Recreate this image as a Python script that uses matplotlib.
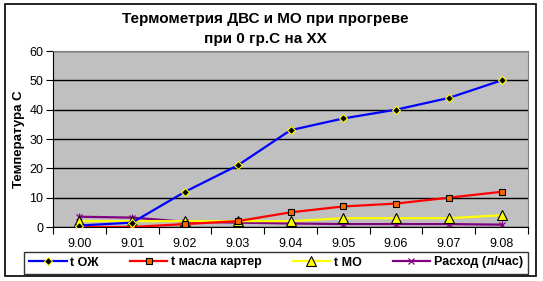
import matplotlib
matplotlib.use("Agg")
import matplotlib.pyplot as plt
from matplotlib.patches import Rectangle

plt.rcParams['font.family'] = ['Liberation Sans', 'DejaVu Sans']

categories = ["9.00", "9.01", "9.02", "9.03", "9.04", "9.05", "9.06", "9.07", "9.08"]
t_oj = [0.5, 1.5, 12, 21, 33, 37, 40, 44, 50]
t_oil = [0, 0, 1, 2, 5, 7, 8, 10, 12]
t_mo = [2, 2, 2, 2, 2, 3, 3, 3, 4]
rashod = [3.5, 3.2, 1.8, 1.5, 1.2, 1, 1, 1, 0.8]
yticks = [0, 10, 20, 30, 40, 50, 60]

W, H = 543, 281
fig = plt.figure(figsize=(W / 100, H / 100), dpi=100)
fig.patch.set_facecolor('white')
fig.patches.append(Rectangle((5 / W, 1 - 276 / H), 531 / W, 272 / H, transform=fig.transFigure,
                             fill=False, edgecolor='black', linewidth=1.2))

ax = fig.add_axes([53 / W, 1 - 227 / H, 475 / W, 176 / H])
ax.set_facecolor('#C0C0C0')
x = list(range(len(categories)))

ax.plot(x, t_oj, color='#0000FF', lw=1.6, marker='D', ms=4.5, mfc='black', mec='#FFFF00', mew=0.8,
        label='t ОЖ', zorder=5)
ax.plot(x, t_oil, color='#FF0000', lw=1.6, marker='s', ms=5, mfc='#FF6600', mec='black', mew=0.8,
        label='t масла картер', zorder=4)
ax.plot(x, t_mo, color='#FFFF00', lw=1.6, marker='^', ms=7, mfc='#FFFF00', mec='black', mew=0.8,
        label='t МО', zorder=3)
ax.plot(x, rashod, color='#800080', lw=1.6, marker='x', ms=5, mec='#800080', mew=0.9,
        label='Расход (л/час)', zorder=2)
ax.plot(x, rashod, lw=0, marker='|', ms=6, mec='#800080', mew=0.9, zorder=2)

ax.set_xlim(-0.5, len(categories) - 0.5)
ax.set_ylim(0, 60)
ax.set_yticks(yticks)
ax.set_yticklabels([str(v) for v in yticks], fontsize=9)
ax.set_xticks([i - 0.5 for i in range(len(categories) + 1)])
ax.set_xticklabels([])
ax.set_xticks(x, minor=True)
ax.set_xticklabels(categories, minor=True, fontsize=9)
ax.tick_params(axis='x', which='minor', length=0, pad=8)
ax.tick_params(axis='x', which='major', length=5, direction='out', color='black')
ax.tick_params(axis='y', length=5, direction='out', color='black', pad=2)
ax.yaxis.grid(True, color='black', lw=1)
ax.set_axisbelow(True)
for s in ['top', 'right']:
    ax.spines[s].set_color('#808080')
ax.spines['left'].set_color('black')
ax.spines['bottom'].set_color('black')

ax.set_ylabel('Температура С', fontsize=9.5, fontweight='bold', labelpad=3)

fig.text(265 / W, 1 - 19 / H, 'Термометрия ДВС и МО при прогреве', ha='center', va='center',
         fontsize=11, fontweight='bold')
fig.text(265 / W, 1 - 39 / H, 'при 0 гр.С на ХХ', ha='center', va='center',
         fontsize=11, fontweight='bold')

handles, labels = ax.get_legend_handles_labels()
leg = fig.legend(handles, labels, loc='center', ncol=4, mode='expand',
                 bbox_to_anchor=(24 / W, 1 - 274 / H, 504 / W, 23 / H),
                 bbox_transform=fig.transFigure, frameon=True, fancybox=False,
                 borderaxespad=0, handlelength=3, handletextpad=0.3, borderpad=0.4,
                 prop={'weight': 'bold', 'size': 9})
leg.get_frame().set_edgecolor('black')
leg.get_frame().set_linewidth(1)

fig.savefig('out.png', dpi=100, facecolor='white')
